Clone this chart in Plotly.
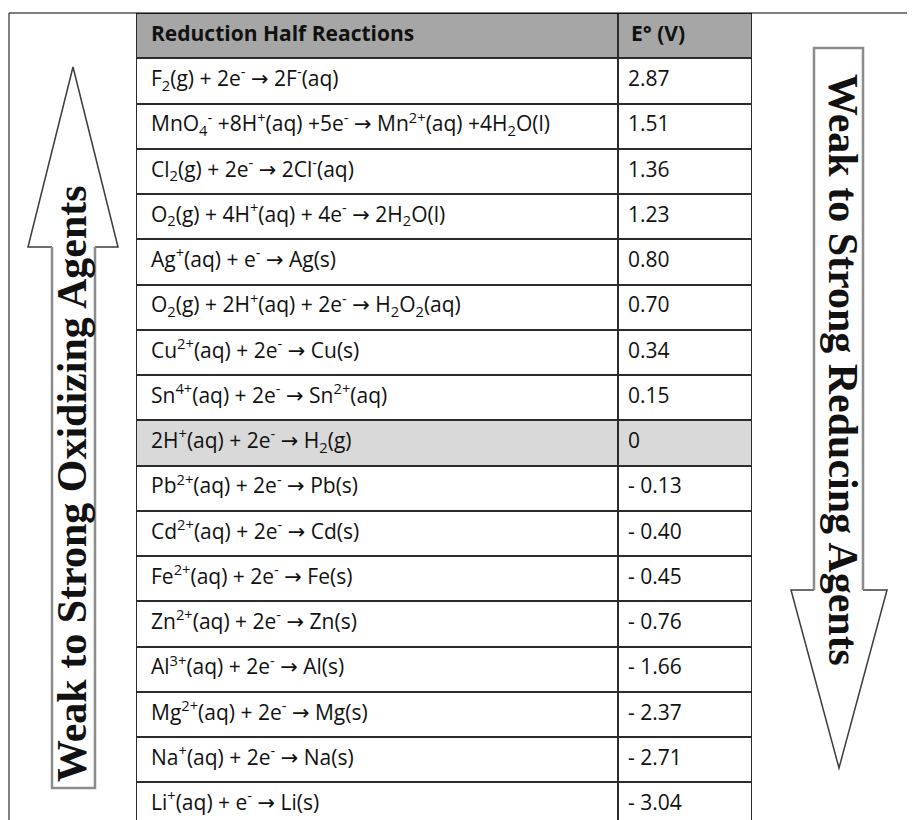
import plotly.graph_objects as go

# ----------------------------------------------------------------------
# Data: standard reduction potentials
# ----------------------------------------------------------------------

ARROW = '<span style="font-family:DejaVu Sans">→</span>'

header = ["<b>Reduction Half Reactions</b>", "<b>E° (V)</b>"]

reactions = [
    "F<sub>2</sub>(g) + 2e<sup>-</sup> {a} 2F<sup>-</sup>(aq)",
    "MnO<sub>4</sub><sup>-</sup> +8H<sup>+</sup>(aq) +5e<sup>-</sup> {a} Mn<sup>2+</sup>(aq) +4H<sub>2</sub>O(l)",
    "Cl<sub>2</sub>(g) + 2e<sup>-</sup> {a} 2Cl<sup>-</sup>(aq)",
    "O<sub>2</sub>(g) + 4H<sup>+</sup>(aq) + 4e<sup>-</sup> {a} 2H<sub>2</sub>O(l)",
    "Ag<sup>+</sup>(aq) + e<sup>-</sup> {a} Ag(s)",
    "O<sub>2</sub>(g) + 2H<sup>+</sup>(aq) + 2e<sup>-</sup> {a} H<sub>2</sub>O<sub>2</sub>(aq)",
    "Cu<sup>2+</sup>(aq) + 2e<sup>-</sup> {a} Cu(s)",
    "Sn<sup>4+</sup>(aq) + 2e<sup>-</sup> {a} Sn<sup>2+</sup>(aq)",
    "2H<sup>+</sup>(aq) + 2e<sup>-</sup> {a} H<sub>2</sub>(g)",
    "Pb<sup>2+</sup>(aq) + 2e<sup>-</sup> {a} Pb(s)",
    "Cd<sup>2+</sup>(aq) + 2e<sup>-</sup> {a} Cd(s)",
    "Fe<sup>2+</sup>(aq) + 2e<sup>-</sup> {a} Fe(s)",
    "Zn<sup>2+</sup>(aq) + 2e<sup>-</sup> {a} Zn(s)",
    "Al<sup>3+</sup>(aq) + 2e<sup>-</sup> {a} Al(s)",
    "Mg<sup>2+</sup>(aq) + 2e<sup>-</sup> {a} Mg(s)",
    "Na<sup>+</sup>(aq) + 2e<sup>-</sup> {a} Na(s)",
    "Li<sup>+</sup>(aq) + e<sup>-</sup> {a} Li(s)",
]

potentials = [2.87, 1.51, 1.36, 1.23, 0.80, 0.70, 0.34, 0.15, 0.0,
              -0.13, -0.40, -0.45, -0.76, -1.66, -2.37, -2.71, -3.04]

# the hydrogen reference row is shaded
reference_row = 8

left_label = "<b>Weak to Strong Oxidizing Agents</b>"
right_label = "<b>Weak to Strong Reducing Agents</b>"

# ----------------------------------------------------------------------
# Layout constants (pixels in the page; the page body adds an 8px margin)
# ----------------------------------------------------------------------

W, H = 915, 820
OFF = 8
TABLE_LEFT, TABLE_RIGHT, TABLE_TOP = 136, 752, 13
COL_W = [482, 134]
ROW_H = 45.25
TEXT_SIZE = 21
TEXT_FONT = "Open Sans, Noto Sans, sans-serif"
ARROW_FONT = "Liberation Serif, Times New Roman, serif"
HEADER_FILL = "#a6a6a6"
SHADE_FILL = "#d9d9d9"
GRID = "#2b2b2b"


def px(x):
    return (x - OFF) / W


def py(y):
    return 1 - (y - OFF) / H


def fmt(v):
    if v == 0:
        return "0"
    if v < 0:
        return f"- {abs(v):.2f}"
    return f"{v:.2f}"


n_rows = len(reactions) + 1
fill_level = [2] + [1 if i == reference_row else 0 for i in range(len(reactions))]
z = [[lvl, lvl] for lvl in fill_level]
x_edges = [0, COL_W[0], COL_W[0] + COL_W[1]]
y_rows = list(range(n_rows))

fig = go.Figure()

# cell backgrounds; the gaps show the dark plot background as grid lines
fig.add_trace(go.Heatmap(
    z=z,
    x=x_edges,
    y=y_rows,
    zmin=0, zmax=2,
    colorscale=[[0, "#ffffff"], [0.5, SHADE_FILL], [1, HEADER_FILL]],
    showscale=False,
    xgap=2, ygap=2,
    hoverinfo="skip",
))

text_font = dict(family=TEXT_FONT, size=TEXT_SIZE, color="#111111")

# header text
fig.add_trace(go.Scatter(
    x=[15, COL_W[0] + 13],
    y=[0, 0],
    text=header,
    mode="text",
    textposition="middle right",
    textfont=text_font,
    hoverinfo="skip",
))

# reaction column
fig.add_trace(go.Scatter(
    x=[15] * len(reactions),
    y=list(range(1, n_rows)),
    text=[r.format(a=ARROW) for r in reactions],
    mode="text",
    textposition="middle right",
    textfont=text_font,
    hoverinfo="skip",
))

# potential column
fig.add_trace(go.Scatter(
    x=[COL_W[0] + 10] * len(potentials),
    y=list(range(1, n_rows)),
    text=[fmt(v) for v in potentials],
    mode="text",
    textposition="middle right",
    textfont=text_font,
    hoverinfo="skip",
))

# table axes run from the table top down past the bottom of the window
plot_top = TABLE_TOP - OFF
y_span = (H - plot_top) / ROW_H

fig.update_xaxes(
    domain=[px(TABLE_LEFT), px(TABLE_RIGHT)],
    range=[0, sum(COL_W)],
    visible=False, fixedrange=True,
)
fig.update_yaxes(
    domain=[0, py(TABLE_TOP)],
    range=[-0.5 + y_span, -0.5],
    visible=False, fixedrange=True,
)

# ----------------------------------------------------------------------
# Outer frame and the two arrows
# ----------------------------------------------------------------------

def path(points, close=False):
    s = "M " + " L ".join(f"{px(x):.5f},{py(y):.5f}" for x, y in points)
    return s + (" Z" if close else "")


shapes = [
    # outer frame
    dict(type="line", xref="paper", yref="paper",
         x0=px(9), x1=px(9), y0=py(TABLE_TOP), y1=0,
         line=dict(color="#000000", width=1)),
    dict(type="line", xref="paper", yref="paper",
         x0=px(9), x1=1, y0=py(TABLE_TOP), y1=py(TABLE_TOP),
         line=dict(color="#000000", width=1.2)),
    # left arrow (up)
    dict(type="path", xref="paper", yref="paper",
         path=path([(52, 247), (28, 247), (73, 67), (118, 247), (95, 247)]),
         line=dict(color="#3c3c3c", width=1.5)),
    dict(type="path", xref="paper", yref="paper",
         path=path([(52, 247), (52, 788), (95, 788), (95, 247)]),
         line=dict(color="#8c8c8c", width=2.5)),
    # right arrow (down)
    dict(type="path", xref="paper", yref="paper",
         path=path([(814, 590), (791, 590), (839, 768), (887, 590), (863, 590)]),
         line=dict(color="#3c3c3c", width=1.5)),
    dict(type="path", xref="paper", yref="paper",
         path=path([(814, 590), (814, 48), (863, 48), (863, 590)]),
         line=dict(color="#8c8c8c", width=2.5)),
]

annotations = [
    dict(text=left_label, xref="paper", yref="paper",
         x=px(72), y=py(484), xanchor="center", yanchor="middle",
         textangle=-90, showarrow=False,
         font=dict(family=ARROW_FONT, size=42, color="#111111")),
    dict(text=right_label, xref="paper", yref="paper",
         x=px(843), y=py(370), xanchor="center", yanchor="middle",
         textangle=90, showarrow=False,
         font=dict(family=ARROW_FONT, size=42, color="#111111")),
]

fig.update_layout(
    width=W, height=H,
    margin=dict(l=0, r=0, t=0, b=0),
    paper_bgcolor="#ffffff",
    plot_bgcolor=GRID,
    showlegend=False,
    shapes=shapes,
    annotations=annotations,
)

fig.write_html("out.html")
